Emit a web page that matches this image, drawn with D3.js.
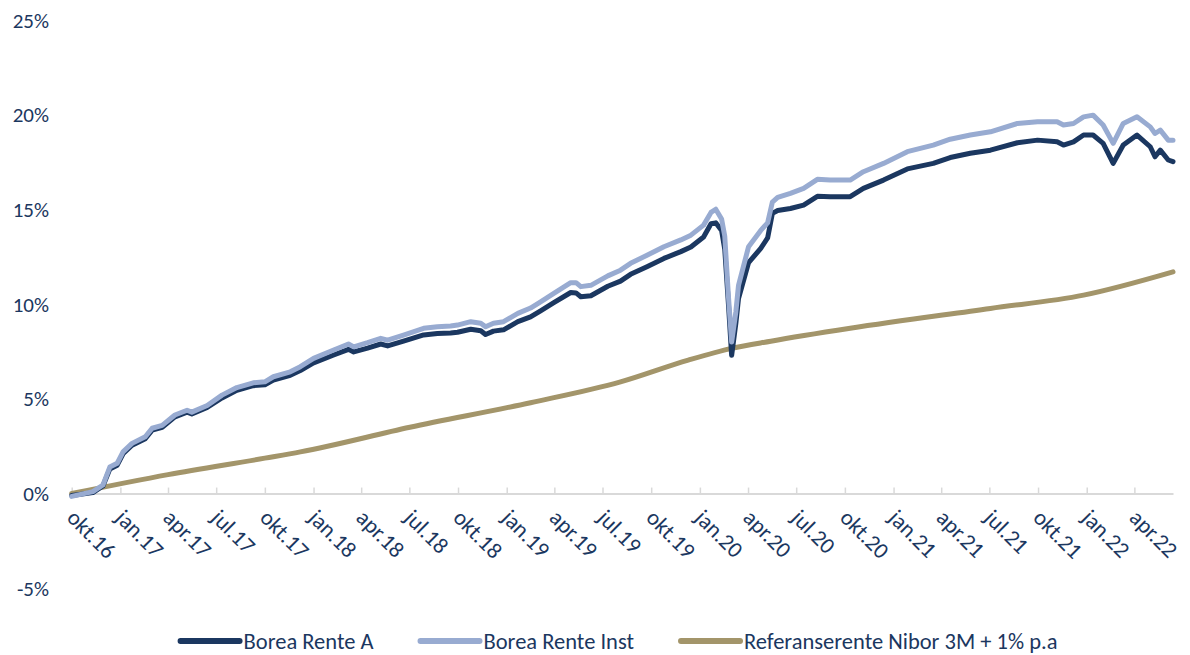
<!DOCTYPE html>
<html>
<head>
<meta charset="utf-8">
<script src="https://cdn.jsdelivr.net/npm/d3@7"></script>
<style>
  body { margin: 0; background: #fff; }
  svg text { font-family: Carlito, Calibri, Lato, sans-serif; fill: #1b3760; }
</style>
</head>
<body>
<div id="plot-area"></div>
<script>
// fund observation dates (shared by both Borea series)
const fundDates = [
  "2016-10-01","2016-11-10","2016-11-29","2016-12-12","2016-12-26","2017-01-06","2017-01-23","2017-02-17",
  "2017-03-02","2017-03-21","2017-04-14","2017-05-07","2017-05-16","2017-06-14","2017-07-12","2017-08-09",
  "2017-09-09","2017-10-01","2017-10-17","2017-11-18","2017-12-07","2018-01-01","2018-02-08","2018-03-08",
  "2018-03-18","2018-04-13","2018-05-08","2018-05-21","2018-06-20","2018-07-28","2018-08-23","2018-09-17",
  "2018-09-30","2018-10-25","2018-11-13","2018-11-22","2018-12-07","2018-12-26","2019-01-22","2019-02-15",
  "2019-03-06","2019-03-31","2019-05-02","2019-05-12","2019-05-21","2019-06-09","2019-07-11","2019-08-04",
  "2019-08-23","2019-09-24","2019-10-25","2019-11-26","2019-12-15","2020-01-08","2020-01-22","2020-01-31",
  "2020-02-11","2020-02-17","2020-02-24","2020-03-01","2020-03-09","2020-03-14","2020-04-02","2020-04-25",
  "2020-05-08","2020-05-17","2020-05-27","2020-06-20","2020-07-15","2020-08-10","2020-09-03","2020-10-11",
  "2020-11-05","2020-12-13","2021-01-27","2021-03-17","2021-04-18","2021-05-26","2021-07-03","2021-08-23",
  "2021-09-30","2021-11-06","2021-11-18","2021-12-07","2021-12-26","2022-01-13","2022-02-01","2022-02-20",
  "2022-03-11","2022-04-06","2022-05-01","2022-05-10","2022-05-20","2022-06-04","2022-06-13"
];

const renteA = [
  -0.1, 0.05, 0.4, 1.3, 1.5, 2.1, 2.55, 2.9,
  3.35, 3.5, 4.05, 4.3, 4.2, 4.55, 5.05, 5.45,
  5.7, 5.75, 6.0, 6.25, 6.5, 6.9, 7.32, 7.62,
  7.48, 7.68, 7.9, 7.8, 8.05, 8.38, 8.45, 8.48,
  8.52, 8.68, 8.6, 8.4, 8.58, 8.65, 9.08, 9.33,
  9.65, 10.08, 10.62, 10.6, 10.4, 10.45, 10.95, 11.22,
  11.58, 12.0, 12.42, 12.78, 13.02, 13.55, 14.25, 14.3,
  13.9, 12.9, 10.0, 7.3, 9.0, 10.3, 12.2, 12.95,
  13.5, 14.8, 14.95, 15.06, 15.24, 15.7, 15.68, 15.68,
  16.12, 16.56, 17.15, 17.44, 17.75, 17.98, 18.14, 18.53,
  18.67, 18.58, 18.41, 18.58, 18.94, 18.94, 18.5, 17.44,
  18.41, 18.94, 18.32, 17.79, 18.14, 17.62, 17.53
];

const renteInst = [
  -0.15, 0.1, 0.45, 1.4, 1.6, 2.2, 2.65, 3.0,
  3.45, 3.6, 4.15, 4.4, 4.3, 4.65, 5.2, 5.6,
  5.85, 5.9, 6.17, 6.43, 6.7, 7.14, 7.58, 7.9,
  7.75, 7.97, 8.2, 8.1, 8.37, 8.73, 8.81, 8.85,
  8.9, 9.08, 9.0, 8.81, 9.0, 9.08, 9.52, 9.8,
  10.13, 10.57, 11.14, 11.14, 10.93, 11.0, 11.5, 11.8,
  12.16, 12.6, 13.04, 13.4, 13.65, 14.18, 14.85, 15.02,
  14.5, 13.6, 10.4, 8.0, 9.6, 11.0, 13.04, 13.9,
  14.3, 15.4, 15.65, 15.86, 16.12, 16.6, 16.56, 16.56,
  17.0, 17.44, 18.06, 18.41, 18.72, 18.94, 19.11, 19.55,
  19.64, 19.64, 19.47, 19.55, 19.9, 19.99, 19.47, 18.5,
  19.55, 19.9, 19.37, 19.02, 19.2, 18.67, 18.67
];

const niborDates = [
  "2016-10-01","2017-04-01","2017-10-01","2017-12-07","2018-07-02","2019-02-15","2019-08-04",
  "2019-12-10","2020-03-01","2020-05-14","2020-10-11","2021-07-03","2021-12-26","2022-06-13"
];
const niborRef = [0.0, 1.0, 1.87, 2.2, 3.5, 4.8, 5.9, 7.05, 7.67, 8.05, 8.73, 9.78, 10.48, 11.71];

const seriesNames = ["Borea Rente A", "Borea Rente Inst", "Referanserente Nibor 3M + 1% p.a"];
const seriesColors = ["#1b3760", "#98abd1", "#a3956a"];

const monthAbbr = ["jan","feb","mar","apr","mai","jun","jul","aug","sep","okt","nov","des"];
const xTickLabels = [
  "okt.16","jan.17","apr.17","jul.17","okt.17","jan.18","apr.18","jul.18","okt.18","jan.19","apr.19","jul.19",
  "okt.19","jan.20","apr.20","jul.20","okt.20","jan.21","apr.21","jul.21","okt.21","jan.22","apr.22"
];
const yTicks = [-5, 0, 5, 10, 15, 20, 25];

const width = 1190, height = 655;
const parse = d3.timeParse("%Y-%m-%d");
const labelDate = function (s) {
    let parts = s.split(".");
    return new Date(2000 + +parts[1], monthAbbr.indexOf(parts[0]), 1);
};

const x = d3.scaleTime()
    .domain([parse(fundDates[0]), parse(fundDates[fundDates.length - 1])])
    .range([71.7, 1173]);
const y = d3.scaleLinear().domain([-5, 25]).range([588.2, 20.3]);

const svg = d3.select("#plot-area").append("svg")
    .attr("width", width)
    .attr("height", height);

// y labels (no axis line in the original)
svg.append("g").selectAll("text")
    .data(yTicks)
    .join("text")
    .attr("x", 49)
    .attr("y", d => y(d))
    .attr("dy", "0.35em")
    .style("text-anchor", "end")
    .style("font-size", "21px")
    .text(d => d + "%");

// x axis
const xAxis = d3.axisBottom(x)
    .tickValues(xTickLabels.map(labelDate))
    .tickFormat((d, i) => xTickLabels[i])
    .tickSizeInner(-6)
    .tickSizeOuter(0);

const gx = svg.append("g")
    .attr("transform", "translate(0," + y(0) + ")")
    .call(xAxis);
gx.select(".domain").attr("stroke", "#d9d9d9").attr("stroke-width", 2);
gx.selectAll(".tick line").attr("stroke", "#d9d9d9").attr("stroke-width", 1.5);
gx.selectAll(".tick text")
    .attr("x", 0).attr("y", 0).attr("dy", "0.35em")
    .attr("transform", "translate(-1,20) rotate(45)")
    .style("text-anchor", "start")
    .style("font-size", "22.5px")
    .attr("fill", "#1b3760")
    .attr("font-family", null);

// lines
const fundLine = d3.line()
    .x(d => x(d.date))
    .y(d => y(d.value));

const niborLine = d3.line()
    .x(d => x(d.date))
    .y(d => y(d.value))
    .curve(d3.curveMonotoneX);

const niborData = niborDates.map((d, i) => ({date: parse(d), value: niborRef[i]}));
const aData = fundDates.map((d, i) => ({date: parse(d), value: renteA[i]}));
const instData = fundDates.map((d, i) => ({date: parse(d), value: renteInst[i]}));

const lineContainer = svg.append("g");
[[niborData, niborLine, 2], [aData, fundLine, 0], [instData, fundLine, 1]].forEach(function (s) {
    lineContainer.append("path")
        .datum(s[0])
        .attr("d", s[1])
        .attr("fill", "none")
        .attr("stroke", seriesColors[s[2]])
        .attr("stroke-width", 5)
        .attr("stroke-linejoin", "round")
        .attr("stroke-linecap", "round");
});

// legend, centered under the plot
const legend = svg.append("g");
const items = seriesNames.map(function (name, i) {
    let g = legend.append("g");
    g.append("line")
        .attr("x1", 0).attr("x2", 59)
        .attr("y1", 0).attr("y2", 0)
        .attr("stroke", seriesColors[i])
        .attr("stroke-width", 6)
        .attr("stroke-linecap", "round");
    let t = g.append("text")
        .attr("x", 63).attr("y", 0).attr("dy", "0.35em")
        .style("font-size", "22.5px")
        .text(name);
    return {g: g, w: 63 + t.node().getComputedTextLength()};
});
const gap = 47;
const total = d3.sum(items, d => d.w) + gap * (items.length - 1);
let cursor = 619 - total / 2;
items.forEach(function (it) {
    it.g.attr("transform", "translate(" + cursor + ",641)");
    cursor += it.w + gap;
});
</script>
</body>
</html>
